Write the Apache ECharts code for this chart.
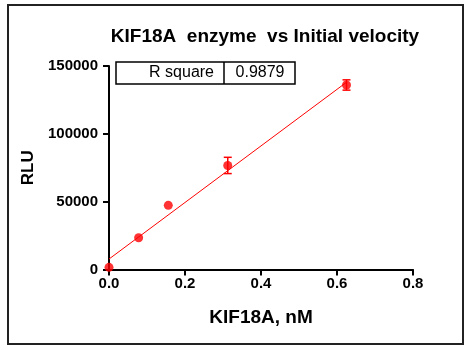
<!DOCTYPE html>
<html><head><meta charset="utf-8">
<script src="https://cdn.jsdelivr.net/npm/echarts@6/dist/echarts.min.js"></script>
<style>html,body{margin:0;padding:0;background:#fff}#c{width:469px;height:350px}</style>
</head><body><div id="c"></div>
<script>
const concX = [0, 0.078, 0.156, 0.3125, 0.625];
const rluMean = [1600, 23400, 47300, 76700, 136000];
const rluErr = [0, 0, 0, 6000, 3800];
const fitX = [0, 0.625];
const fitY = [7700, 138000];
const xTicks = [0, 0.2, 0.4, 0.6, 0.8];
const yTicks = [0, 50000, 100000, 150000];
const rSquare = '0.9879';

const chart = echarts.init(document.getElementById('c'));
const F = 'Liberation Sans, Arial, sans-serif';
const RED = '#ff0000';
const tick = { show: true, inside: false, length: 6, lineStyle: { color: '#000', width: 2 } };
chart.setOption({
  animation: false,
  title: { text: 'KIF18A  enzyme  vs Initial velocity', left: 260, textAlign: 'center', top: 22,
    textStyle: { fontFamily: F, fontWeight: 'bold', fontSize: 19, color: '#000' } },
  grid: { left: 109, right: 56, top: 66, bottom: 80.5 },
  xAxis: { type: 'value', min: 0, max: 0.8, interval: 0.2, splitLine: { show: false },
    name: 'KIF18A, nM', nameLocation: 'middle', nameGap: 39,
    nameTextStyle: { fontFamily: F, fontWeight: 'bold', fontSize: 19, color: '#000' },
    axisLine: { show: true, onZero: false, lineStyle: { color: '#000', width: 2 } },
    axisTick: tick,
    axisLabel: { fontFamily: F, fontWeight: 'bold', fontSize: 15, color: '#000', margin: 7,
      formatter: v => xTicks.includes(+(+v).toFixed(1)) ? (+v).toFixed(1) : '' } },
  yAxis: { type: 'value', min: 0, max: 150000, interval: 50000, splitLine: { show: false },
    name: 'RLU', nameLocation: 'middle', nameGap: 68, nameRotate: 90,
    nameTextStyle: { fontFamily: F, fontWeight: 'bold', fontSize: 17, color: '#000' },
    axisLine: { show: true, onZero: false, lineStyle: { color: '#000', width: 2 } },
    axisTick: tick,
    axisLabel: { fontFamily: F, fontWeight: 'bold', fontSize: 15, color: '#000', margin: 11,
      formatter: v => yTicks.includes(v) ? String(v) : '' } },
  graphic: [
    { type: 'rect', shape: { x: 8, y: 5, width: 455, height: 339 }, style: { fill: 'none', stroke: '#222', lineWidth: 2 }, z: -1 },
    { type: 'rect', shape: { x: 116, y: 62, width: 179, height: 22 }, style: { fill: '#fff', stroke: '#000', lineWidth: 1.5 }, z: 10 },
    { type: 'line', shape: { x1: 224, y1: 62, x2: 224, y2: 84 }, style: { stroke: '#000', lineWidth: 1.5 }, z: 11 },
    { type: 'text', x: 214, y: 73, style: { text: 'R square', fill: '#000', font: '16px ' + F, align: 'right', verticalAlign: 'middle' }, z: 11 },
    { type: 'text', x: 260, y: 73, style: { text: rSquare, fill: '#000', font: '16px ' + F, align: 'center', verticalAlign: 'middle' }, z: 11 }
  ],
  series: [
    { type: 'line', data: fitX.map((x, i) => [x, fitY[i]]), symbol: 'none', lineStyle: { color: RED, width: 1 }, z: 2 },
    { type: 'custom', clip: false, z: 3,
      data: concX.map((x, i) => [x, rluMean[i], rluErr[i]]),
      renderItem: (p, api) => {
        const x = api.value(0), m = api.value(1), e = api.value(2);
        if (!e) return null;
        const lo = api.coord([x, m - e]), hi = api.coord([x, m + e]);
        const st = { stroke: RED, lineWidth: 1.5 };
        return { type: 'group', children: [
          { type: 'line', shape: { x1: lo[0], y1: lo[1], x2: hi[0], y2: hi[1] }, style: st },
          { type: 'line', shape: { x1: lo[0] - 4, y1: lo[1], x2: lo[0] + 4, y2: lo[1] }, style: st },
          { type: 'line', shape: { x1: hi[0] - 4, y1: hi[1], x2: hi[0] + 4, y2: hi[1] }, style: st }
        ] };
      } },
    { type: 'scatter', clip: false, z: 4, data: concX.map((x, i) => [x, rluMean[i]]), symbol: 'circle', symbolSize: 9, itemStyle: { color: RED } }
  ]
});
</script></body></html>
